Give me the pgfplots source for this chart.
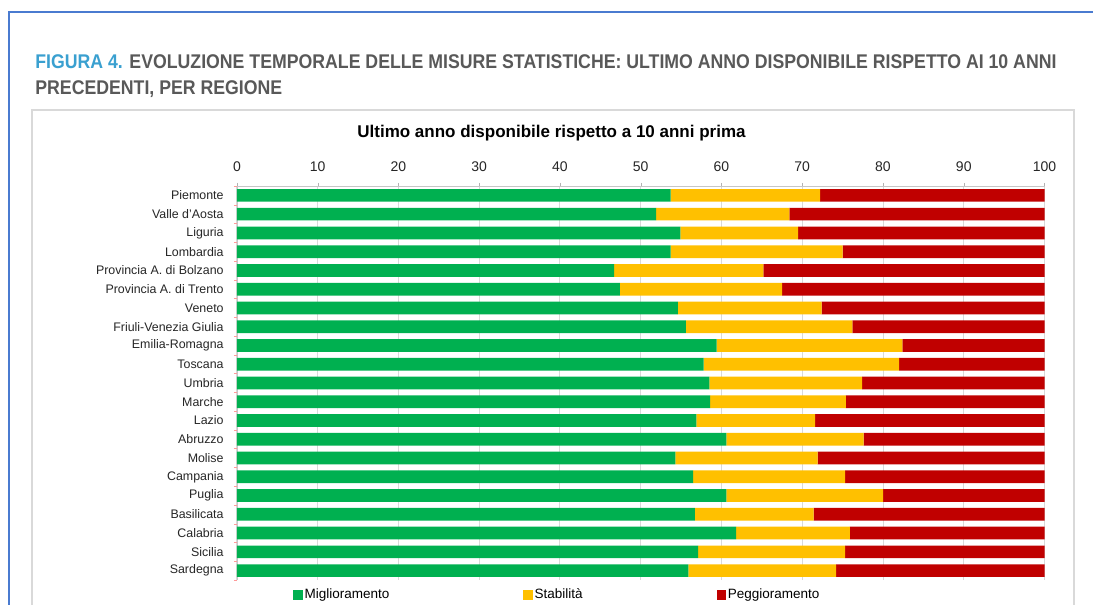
\documentclass[border=0pt]{standalone}
\usepackage{pgfplots}
\pgfplotsset{compat=1.18}
\usepackage{pgfplotstable}
\usepackage{fontspec}
\setmainfont{Liberation Sans}
\definecolor{cGreen}{HTML}{00B050}
\definecolor{cYellow}{HTML}{FFC000}
\definecolor{cRed}{HTML}{C00000}
\definecolor{cFrame}{HTML}{4A7BD0}
\definecolor{cFig}{HTML}{3AA0D0}
\definecolor{cTitle}{HTML}{595959}
\definecolor{cGrid}{HTML}{D9D9D9}

\pgfplotstableread{
idx g y r
20 53.7 18.5 27.8
19 51.9 16.5 31.6
18 54.9 14.6 30.5
17 53.7 21.3 25.0
16 46.7 18.5 34.8
15 47.4 20.1 32.5
14 54.6 17.8 27.6
13 55.6 20.6 23.8
12 59.4 23.0 17.6
11 57.8 24.2 18.0
10 58.5 18.9 22.6
9 58.6 16.8 24.6
8 56.9 14.7 28.4
7 60.6 17.0 22.4
6 54.3 17.6 28.1
5 56.5 18.8 24.7
4 60.6 19.4 20.0
3 56.7 14.7 28.6
2 61.8 14.1 24.1
1 57.1 18.2 24.7
0 55.9 18.3 25.8
}\data

\begin{document}
\begin{tikzpicture}
\useasboundingbox (0,0) rectangle (549.5pt,302.5pt);
\clip (0,0) rectangle (549.5pt,302.5pt);
\fill[white] (0,0) rectangle (549.5pt,302.5pt);
\draw[cFrame, line width=1pt] (4.5pt,-5pt) -- (4.5pt,296.5pt) -- (546.5pt,296.5pt);
\draw[cGrid, line width=0.6pt] (16pt,-5pt) -- (16pt,247.5pt) -- (537pt,247.5pt) -- (537pt,-5pt);
\node[anchor=base west, inner sep=0pt, text=cTitle] at (17.5pt,268.35pt) {\scalebox{1}[1.12]{\fontsize{8.85pt}{10pt}\selectfont\bfseries\textcolor{cFig}{FIGURA 4.} EVOLUZIONE TEMPORALE DELLE MISURE STATISTICHE: ULTIMO ANNO DISPONIBILE RISPETTO AI 10 ANNI}};
\node[anchor=base west, inner sep=0pt, text=cTitle] at (17.5pt,255.25pt) {\scalebox{1}[1.12]{\fontsize{8.85pt}{10pt}\selectfont\bfseries PRECEDENTI, PER REGIONE}};
\node[anchor=base, inner sep=0pt] at (275.75pt,233.5pt) {\fontsize{8.5pt}{10pt}\selectfont\bfseries Ultimo anno disponibile rispetto a 10 anni prima};
\begin{axis}[
  at={(118.5pt,12.5pt)}, anchor=south west,
  scale only axis, width=403.75pt, height=197pt,
  xbar stacked, bar width=6.35pt,
  xmin=0, xmax=100, ymin=-0.5, ymax=20.5,
  axis x line*=top, axis y line*=left,
  axis line style={-, draw=gray!45},
  xtick={0,10,...,100},
  xmajorgrids, major grid style={draw=cGrid, line width=0.5pt},
  tick align=outside, major tick length=1.5pt,
  xtick style={draw=gray!60},
  ytick={0,...,20},
  yticklabels={Sardegna, Sicilia, Calabria, Basilicata, Puglia, Campania, Molise, Abruzzo, Lazio, Marche, Umbria, Toscana, Emilia-Romagna, Friuli-Venezia Giulia, Veneto, Provincia A. di Trento, Provincia A. di Bolzano, Lombardia, Liguria, Valle d'Aosta, Piemonte},
  ytick style={draw=none},
  minor ytick={-0.5,0.5,...,20.5}, minor tick length=1.5pt,
  minor y tick style={draw=red!40},
  tick label style={text=black!85},
  yticklabel style={font=\fontsize{6.2pt}{7pt}\selectfont, inner sep=0pt, xshift=-5pt},
  xticklabel style={font=\fontsize{7pt}{8pt}\selectfont, inner sep=0pt, yshift=5.5pt},
  /pgf/number format/assume math mode=true,
  legend columns=3,
  legend style={at={(0.0693,-0.038)}, anchor=west, draw=none, fill=none, inner sep=0pt,
    font=\fontsize{6.75pt}{8pt}\selectfont,
    nodes={inner sep=1pt},
    /tikz/every even column/.append style={column sep=66pt}},
  sq/.style={legend image code/.code={\fill[##1] (0pt,-2.3pt) rectangle (4.6pt,2.3pt);}},
]
\addplot[fill=cGreen, draw=none, sq] table[x=g, y=idx] {\data};
\addplot[fill=cYellow, draw=none, sq] table[x=y, y=idx] {\data};
\addplot[fill=cRed, draw=none, sq] table[x=r, y=idx] {\data};
\legend{Miglioramento, Stabilità, Peggioramento}
\end{axis}
\end{tikzpicture}
\end{document}
